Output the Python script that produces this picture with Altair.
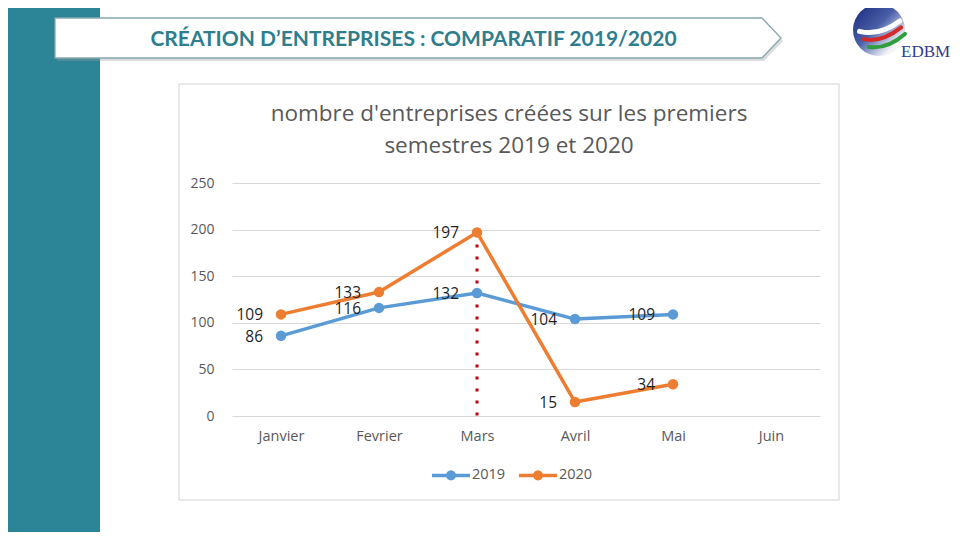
import math
import altair as alt
import pandas as pd

# ---------------- data ----------------
months = ["Janvier", "Fevrier", "Mars", "Avril", "Mai", "Juin"]
months_with_data = ["Janvier", "Fevrier", "Mars", "Avril", "Mai"]
values_2019 = [86, 116, 132, 104, 109]
values_2020 = [109, 133, 197, 15, 34]
series = ["2019", "2020"]
series_colors = ["#5B9BD5", "#ED7D31"]
y_ticks = [0, 50, 100, 150, 200, 250]
marker_month = "Mars"
marker_value = 197

slide_title = "CRÉATION D’ENTREPRISES : COMPARATIF 2019/2020"
chart_title = "nombre d'entreprises créées sur les premiers\nsemestres 2019 et 2020"
logo_text = "EDBM"

df = pd.DataFrame({
    "mois": months_with_data * 2,
    "annee": [series[0]] * len(values_2019) + [series[1]] * len(values_2020),
    "valeur": values_2019 + values_2020,
})
df_rule = pd.DataFrame({"mois": [marker_month], "v0": [0], "valeur": [marker_value]})
one = pd.DataFrame({"k": [0]})

# ---------------- shapes ----------------
def ring(rad, n=16):
    return "".join(
        f"{'M' if i == 0 else 'L'}{rad*math.cos(2*math.pi*i/n):.3f},{rad*math.sin(2*math.pi*i/n):.3f}"
        for i in range(n)
    ) + "Z"

# stroke-only legend symbol: a line with a dot made of two concentric rings
legend_symbol = "M-1,0L1,0" + ring(0.171) + ring(0.079, 10)
banner_path = "M-0.9075,-0.05L0.86,-0.05L0.9075,0L0.86,0.05L-0.9075,0.05Z"

GRAY = "#595959"
FONT = "Open Sans"

# ---------------- scales / encodings ----------------
x_scale = alt.Scale(type="point", domain=months, padding=0.5)
x_axis = alt.Axis(title=None, labelAngle=0, labelAlign="center", domain=False, ticks=False,
                  grid=False, labelPadding=13, labelFont=FONT, labelFontSize=14.5,
                  labelColor=GRAY)
x_enc = alt.X("mois:N", sort=months, scale=x_scale, axis=x_axis)
y_scale = alt.Scale(domain=[0, 250], nice=False)
y_axis = alt.Axis(title=None, values=y_ticks, domain=False, ticks=False, grid=True,
                  gridColor="#d9d9d9", gridWidth=1, labelPadding=18,
                  labelFont=FONT, labelFontSize=14, labelColor=GRAY)
y_enc = alt.Y("valeur:Q", scale=y_scale, axis=y_axis)
color_scale = alt.Scale(domain=series, range=series_colors)
legend = alt.Legend(
    title=None, orient="none", legendX=198, legendY=271, direction="horizontal",
    symbolType=legend_symbol, symbolSize=1444, symbolStrokeWidth=3.5, symbolOpacity=1,
    labelFont=FONT, labelFontSize=14.5, labelColor=GRAY, labelOffset=0,
    columnPadding=6, padding=0,
)

# ---------------- decorative slide layers ----------------
teal_bar = alt.Chart(one).mark_rect(color="#2B8597").encode(
    x=alt.value(-224), x2=alt.value(-132), y=alt.value(-175), y2=alt.value(349))

chart_box = alt.Chart(one).mark_rect(fillOpacity=0, stroke="#d4d4d4", strokeWidth=1).encode(
    x=alt.value(-53), x2=alt.value(607), y=alt.value(-99), y2=alt.value(317))

banner_shadow = alt.Chart(one).mark_point(
    shape=banner_path, size=640000, filled=True, fill="#9a9a9a", opacity=0.35).encode(
    x=alt.value(188), y=alt.value(-142))

banner = alt.Chart(one).mark_point(
    shape=banner_path, size=640000, filled=True, fill="white", stroke="#86a8ae",
    strokeWidth=1.3, opacity=1).encode(x=alt.value(186), y=alt.value(-145))

banner_text = alt.Chart(one).mark_text(
    font="Lato", fontWeight="bold", fontSize=21, color="#2E7E8E",
    align="center", baseline="middle").encode(
    x=alt.value(181.5), y=alt.value(-143), text=alt.value(slide_title))

LX, LY = 647, -153
logo_circle = alt.Chart(one).mark_point(
    shape="circle", size=2704, filled=True, opacity=1,
    fill=alt.LinearGradient(
        gradient="linear", x1=0, y1=0, x2=1, y2=1,
        stops=[alt.GradientStop(color="#16257a", offset=0),
               alt.GradientStop(color="#4a5fa8", offset=0.45),
               alt.GradientStop(color="#f4f4f8", offset=0.8),
               alt.GradientStop(color="#ffffff", offset=1)])).encode(
    x=alt.value(LX), y=alt.value(LY))

logo_white = alt.Chart(one).mark_point(
    shape="M-0.75,0.05Q0.0,0.25 0.8,-0.35", size=2704, filled=False, stroke="white",
    strokeWidth=5, strokeCap="round", opacity=1).encode(x=alt.value(LX), y=alt.value(LY))
logo_red = alt.Chart(one).mark_point(
    shape="M-0.6,0.35Q0.1,0.5 0.85,-0.1", size=2704, filled=False, stroke="#d42a2a",
    strokeWidth=4, strokeCap="round", opacity=1).encode(x=alt.value(LX), y=alt.value(LY))
logo_green = alt.Chart(one).mark_point(
    shape="M-0.4,0.65Q0.3,0.75 1.0,0.15", size=2704, filled=False, stroke="#2f9e3f",
    strokeWidth=4, strokeCap="round", opacity=1).encode(x=alt.value(LX), y=alt.value(LY))
logo_label = alt.Chart(one).mark_text(
    font="Liberation Serif", fontSize=17, color="#2e3b8e", align="left",
    baseline="alphabetic").encode(x=alt.value(669), y=alt.value(-126), text=alt.value(logo_text))

title_text = alt.Chart(one).mark_text(
    font=FONT, fontSize=22.5, color=GRAY, align="center", baseline="alphabetic",
    lineBreak="\n", lineHeight=32).encode(
    x=alt.value(277), y=alt.value(-62), text=alt.value(chart_title))

# ---------------- data layers ----------------
base = alt.Chart(df).encode(x=x_enc, y=y_enc)
lines = base.mark_line(
    strokeWidth=3.5, strokeCap="round", strokeJoin="round",
    point=alt.OverlayMarkDef(filled=True, size=110, opacity=1)).encode(
    color=alt.Color("annee:N", scale=color_scale, legend=legend))

rule = alt.Chart(df_rule).mark_rule(
    color="#C00000", strokeWidth=3, strokeDash=[3, 9], strokeCap="butt").encode(
    x=x_enc, y=y_enc, y2="v0:Q")

labels = base.mark_text(
    font=FONT, fontSize=15.5, color="#1f1f1f", align="right", baseline="middle",
    dx=-18, dy=1).encode(text="valeur:Q")

chart = alt.layer(
    teal_bar, chart_box, banner_shadow, banner, banner_text,
    logo_circle, logo_white, logo_red, logo_green, logo_label, title_text,
    rule, lines, labels,
).properties(
    width=588, height=233,
    autosize=alt.AutoSizeParams(type="none"),
    padding={"left": 224, "top": 175, "right": 132, "bottom": 116},
    background="white",
).configure_view(strokeWidth=0)

chart.save("out.html", embed_options={"renderer": "svg", "actions": False})
